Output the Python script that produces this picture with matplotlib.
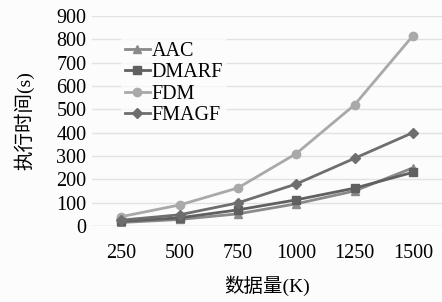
import numpy as np
import matplotlib.pyplot as plt

plt.rcParams['font.family'] = ['Liberation Serif', 'Noto Sans CJK SC']

# 数据
categories = ['250', '500', '750', '1000', '1250', '1500']
aac = [15, 28, 52, 95, 150, 249]
dmarf = [20, 35, 69, 112, 162, 230]
fdm = [40, 90, 163, 310, 519, 815]
fmagf = [25, 48, 99, 180, 290, 400]

series = [
    ('AAC', aac, '#8a8a8a', '^'),
    ('DMARF', dmarf, '#606060', 's'),
    ('FDM', fdm, '#a9a9a9', 'o'),
    ('FMAGF', fmagf, '#6e6e6e', 'D'),
]

fig = plt.figure(figsize=(4.42, 3.02), dpi=100)
fig.patch.set_facecolor('#fcfcfc')
ax = fig.add_axes([92 / 442, 1 - 226 / 302, 350 / 442, 210 / 302])
ax.set_facecolor('#fcfcfc')

x = np.arange(len(categories))
for name, vals, col, mk in series:
    ms = 5 if mk == 'D' else 6
    ax.plot(x, vals, color=col, marker=mk, markersize=ms, linewidth=2, label=name)

ax.set_xlim(-0.5, len(categories) - 0.5)
ax.set_ylim(0, 900)
ax.set_yticks(np.arange(0, 901, 100))
ax.set_xticks(x)
ax.set_xticklabels(categories)
ax.tick_params(length=0, labelsize=14.5, colors='black')
ax.tick_params(axis='x', pad=13)
ax.tick_params(axis='y', pad=4)
ax.grid(axis='y', color='#e2e2e2', linewidth=1)
ax.set_axisbelow(True)
for s in ax.spines.values():
    s.set_visible(False)
ax.axhline(0, color='#d9d9d9', linewidth=1, zorder=0)

ax.set_xlabel('数据量(K)', fontsize=14, labelpad=9)
ax.set_ylabel('执行时间(s)', fontsize=14, labelpad=16)

leg = ax.legend(loc='upper left', bbox_to_anchor=(0.055, 0.945), frameon=True,
                fontsize=14.5, handlelength=1.2, handletextpad=0.1,
                labelspacing=0.12, borderpad=0.2, fancybox=False)
leg.get_frame().set_facecolor('#fcfcfc')
leg.get_frame().set_edgecolor('none')

fig.savefig('out.png', dpi=100, facecolor=fig.get_facecolor())
